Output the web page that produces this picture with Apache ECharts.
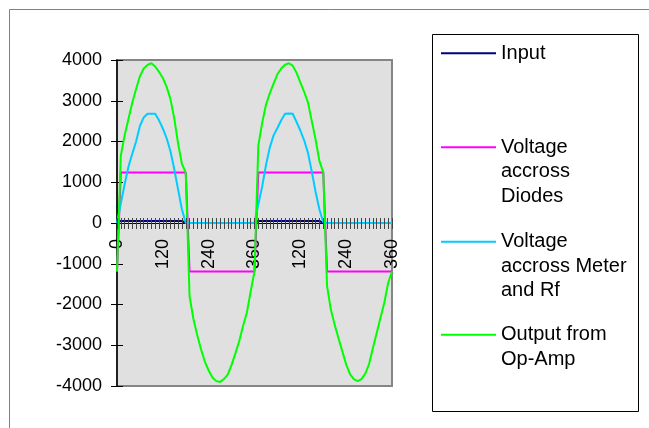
<!DOCTYPE html>
<html><head><meta charset="utf-8">
<script src="https://cdn.jsdelivr.net/npm/echarts@6/dist/echarts.min.js"></script>
<style>html,body{margin:0;padding:0;background:#fff}#c{width:649px;height:428px}</style>
</head><body><div id="c"></div>
<script>
const categories = ['0','10','20','30','40','50','60','70','80','90','100','110','120','130','140','150','160','170','180','190','200','210','220','230','240','250','260','270','280','290','300','310','320','330','340','350','360',
  '10','20','30','40','50','60','70','80','90','100','110','120','130','140','150','160','170','180','190','200','210','220','230','240','250','260','270','280','290','300','310','320','330','340','350','360'];

const seriesNames = ['Input', 'Voltage accross Diodes', 'Voltage accross Meter and Rf', 'Output from Op-Amp'];
const legendLabels = ['Input', '\n\nVoltage\naccross\nDiodes', '\n\nVoltage\naccross Meter\nand Rf', '\nOutput from\nOp-Amp'];

const inputValues = [0,50,50,50,50,50,50,50,50,50,50,50,50,50,50,50,50,50,0,0,0,0,0,0,0,0,0,0,0,0,0,0,0,0,0,0,0,
  50,50,50,50,50,50,50,50,50,50,50,50,50,50,50,50,50,0,0,0,0,0,0,0,0,0,0,0,0,0,0,0,0,0,0,0];

const diodeValues = [-1190,1240,1240,1240,1240,1240,1240,1240,1240,1240,1240,1240,1240,1240,1240,1240,1240,1240,1240,
  -1190,-1190,-1190,-1190,-1190,-1190,-1190,-1190,-1190,-1190,-1190,-1190,-1190,-1190,-1190,-1190,-1190,-1190,
  1240,1240,1240,1240,1240,1240,1240,1240,1240,1240,1240,1240,1240,1240,1240,1240,1240,1240,
  -1190,-1190,-1190,-1190,-1190,-1190,-1190,-1190,-1190,-1190,-1190,-1190,-1190,-1190,-1190,-1190,-1190,-1190];

const meterValues = [0,480,950,1380,1700,2000,2380,2590,2680,2680,2680,2520,2320,2080,1760,1320,820,330,0,
  0,0,0,0,0,0,0,0,0,0,0,0,0,0,0,0,0,0,
  460,890,1420,1850,2150,2330,2520,2680,2690,2680,2480,2270,2030,1720,1260,760,330,20,
  0,0,0,0,0,0,0,0,0,0,0,0,0,0,0,0,0,0];

const outputValues = [-1190,1650,2150,2550,2950,3290,3600,3790,3880,3920,3840,3710,3560,3340,3040,2560,1950,1450,1240,
  -1800,-2350,-2750,-3100,-3400,-3620,-3790,-3880,-3900,-3830,-3720,-3480,-3200,-2900,-2530,-2200,-1680,-1190,
  1900,2450,2900,3180,3420,3650,3790,3885,3920,3860,3690,3450,3220,2960,2500,2050,1520,1250,
  -1550,-2130,-2500,-2830,-3150,-3470,-3710,-3830,-3880,-3830,-3700,-3460,-3070,-2700,-2320,-1950,-1470,-1190];

const seriesColors = ['#000080', '#ff00ff', '#00ccff', '#00ff00'];
const seriesData = [inputValues, diodeValues, meterValues, outputValues];
const yMin = -4000, yMax = 4000, yStep = 1000;
const legendTops = [41, 86, 180.5, 298];

const font = "'Liberation Sans', Arial, sans-serif";
const chart = echarts.init(document.getElementById('c'), null, {renderer: 'canvas'});

const gridTop = 60, gridBottom = 42, chartH = 428;
const plotH = chartH - gridTop - gridBottom;
const zeroOffset = -Math.round(plotH * (0 - yMin) / (yMax - yMin));

const xBase = {type: 'category', data: categories, boundaryGap: false, position: 'bottom',
               offset: zeroOffset, splitLine: {show: false}};
const yBase = {type: 'value', min: yMin, max: yMax, interval: yStep, position: 'left',
               splitLine: {show: false}};

chart.setOption({
  animation: false,
  backgroundColor: '#ffffff',
  grid: {left: 117, top: gridTop, right: 257, bottom: gridBottom, show: true,
         backgroundColor: '#e0e0e0', borderColor: '#858585', borderWidth: 2},
  xAxis: [
    Object.assign({}, xBase, {
      axisLine: {show: true, onZero: false, lineStyle: {color: '#000', width: 1}},
      axisTick: {show: false},
      axisLabel: {interval: 11, rotate: 90, margin: 16, fontSize: 18, color: '#000', fontFamily: font}
    }),
    Object.assign({}, xBase, {
      z: 5,
      axisLine: {show: false, onZero: false},
      axisTick: {show: true, interval: 0, length: 6, lineStyle: {color: '#444', width: 1}},
      axisLabel: {show: false}
    }),
    Object.assign({}, xBase, {
      z: 5,
      axisLine: {show: false, onZero: false},
      axisTick: {show: true, inside: true, interval: 0, length: 5, lineStyle: {color: '#444', width: 1}},
      axisLabel: {show: false}
    })
  ],
  yAxis: [
    Object.assign({}, yBase, {
      axisLine: {show: true, onZero: false, lineStyle: {color: '#000', width: 1.5}},
      axisTick: {show: true, length: 6, lineStyle: {color: '#000'}},
      axisLabel: {fontSize: 18, color: '#000', margin: 15, fontFamily: font, formatter: v => String(v)}
    }),
    Object.assign({}, yBase, {
      axisLine: {show: false, onZero: false},
      axisTick: {show: true, inside: true, length: 6, lineStyle: {color: '#000'}},
      axisLabel: {show: false}
    })
  ],
  legend: seriesNames.map((name, i) => ({
    data: [name], orient: 'vertical', left: 441, top: legendTops[i], padding: 0,
    itemWidth: 55, itemHeight: 2, icon: 'rect', selectedMode: false,
    formatter: () => legendLabels[i],
    textStyle: {fontSize: 20, lineHeight: 24.5, color: '#000', fontFamily: font}
  })),
  graphic: [
    {type: 'rect', silent: true, shape: {x: 9.5, y: 9.5, width: 700, height: 500},
     style: {fill: 'none', stroke: '#808080', lineWidth: 1}},
    {type: 'rect', silent: true, shape: {x: 432.5, y: 34.5, width: 206, height: 377},
     style: {fill: 'none', stroke: '#000', lineWidth: 1}}
  ],
  series: seriesNames.map((name, i) => ({
    name: name, type: 'line', data: seriesData[i], symbol: 'none',
    xAxisIndex: 0, yAxisIndex: 0,
    lineStyle: {color: seriesColors[i], width: 2},
    itemStyle: {color: seriesColors[i]}
  }))
});
</script></body></html>
